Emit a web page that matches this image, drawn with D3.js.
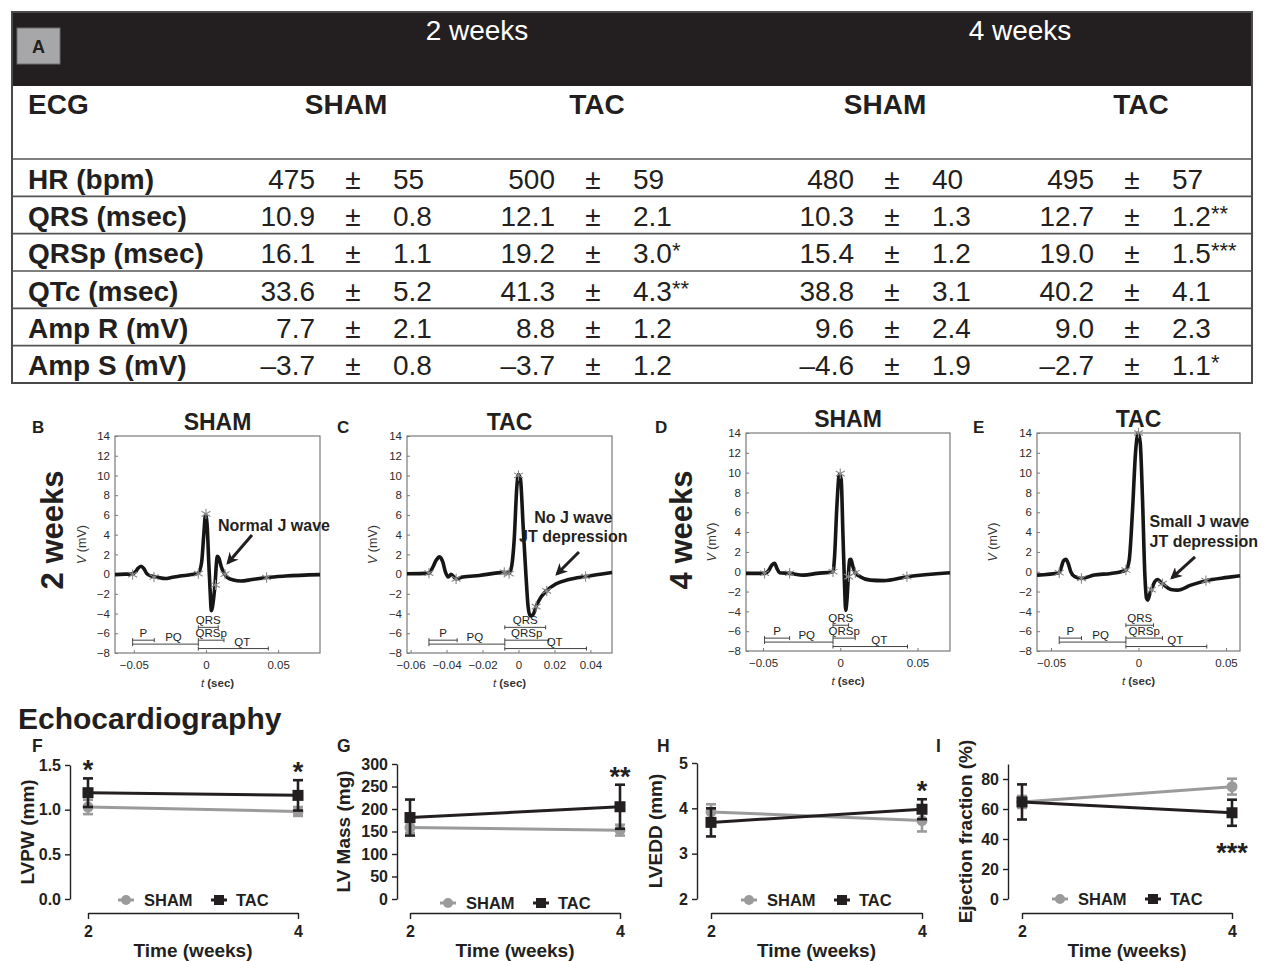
<!DOCTYPE html>
<meta charset="utf-8" />
<script src="https://d3js.org/d3.v7.min.js"></script>
<style>
  body { margin: 0; background: #fff; }
  svg { display: block; font-family: "Liberation Sans", Arial, Helvetica, sans-serif; }
</style>
<body>
<div id="fig"></div>
<script>
// ---------- A: ECG table ----------
const ecgRows = ["HR (bpm)", "QRS (msec)", "QRSp (msec)", "QTc (msec)", "Amp R (mV)", "Amp S (mV)"];
const rowDigits = [0, 1, 1, 1, 1, 1];
const sham2Mean = [475, 10.9, 16.1, 33.6, 7.7, -3.7];
const sham2SD = [55, 0.8, 1.1, 5.2, 2.1, 0.8];
const tac2Mean = [500, 12.1, 19.2, 41.3, 8.8, -3.7];
const tac2SD = [59, 2.1, 3.0, 4.3, 1.2, 1.2];
const tac2Sig = ["", "", "*", "**", "", ""];
const sham4Mean = [480, 10.3, 15.4, 38.8, 9.6, -4.6];
const sham4SD = [40, 1.3, 1.2, 3.1, 2.4, 1.9];
const tac4Mean = [495, 12.7, 19.0, 40.2, 9.0, -2.7];
const tac4SD = [57, 1.2, 1.5, 4.1, 2.3, 1.1];
const tac4Sig = ["", "**", "***", "", "", "*"];
const groupHeads = ["SHAM", "TAC", "SHAM", "TAC"];
const weekHeads = ["2 weeks", "4 weeks"];

// ---------- B-E: averaged ECG beats [t (sec), V (mV)] ----------
const shamTrace2 = [[-0.063,-0.05],[-0.056,0],[-0.051,0],[-0.049,0.2],[-0.047,0.6],[-0.045,0.8],[-0.043,0.55],[-0.041,0.05],
  [-0.038,-0.2],[-0.034,-0.3],[-0.028,-0.45],[-0.024,-0.35],[-0.018,-0.2],[-0.010,-0.05],[-0.0053,0.1],[-0.003,1.2],
  [-0.0015,4.0],[-0.0003,6.0],[0.0008,5.0],[0.002,1.0],[0.003,-2.0],[0.0037,-3.7],[0.0052,-2.6],[0.0065,-0.6],
  [0.0072,1.0],[0.0079,1.8],[0.009,1.6],[0.0105,0.8],[0.0125,0.1],[0.015,-0.35],[0.019,-0.6],[0.024,-0.7],
  [0.032,-0.55],[0.042,-0.35],[0.055,-0.2],[0.079,-0.05]];
const shamMarks2 = [[-0.0508,-0.05],[-0.036,-0.3],[-0.0053,0.05],[0,6.1],[0.0066,-1.1],[0.0132,0],[0.042,-0.35]];

const tacTrace2 = [[-0.062,0.03],[-0.0498,0.1],[-0.0476,0.72],[-0.0458,1.4],[-0.0439,1.75],[-0.0421,1.23],[-0.0406,0.2],
  [-0.0391,-0.3],[-0.0375,-0.03],[-0.0347,-0.48],[-0.031,-0.3],[-0.0218,-0.14],[-0.0079,0.17],[-0.0052,0.1],
  [-0.0037,0.9],[-0.0024,3.46],[-0.0009,8.9],[0,10.1],[0.0011,9.6],[0.0026,4.8],[0.0041,0.03],[0.0054,-3.4],
  [0.0065,-4.25],[0.0081,-4.1],[0.01,-3.2],[0.0124,-2.36],[0.0157,-1.68],[0.0207,-1.0],[0.028,-0.55],
  [0.0373,-0.24],[0.052,0.17]];
const tacMarks2 = [[-0.0498,0.1],[-0.0347,-0.48],[-0.0079,0.17],[-0.0052,0.05],[0,10],[0.0098,-3.3],[0.0157,-1.7],[0.0373,-0.25]];

const shamTrace4 = [[-0.061,-0.17],[-0.049,-0.17],[-0.0464,0.1],[-0.0442,0.68],[-0.0425,0.85],[-0.041,0.34],[-0.0393,-0.1],
  [-0.0328,-0.17],[-0.0237,-0.34],[-0.0151,-0.17],[-0.0047,0],[-0.0037,1.5],[-0.0022,6.6],[-0.0006,9.8],[0.0006,9.3],
  [0.0017,3.9],[0.0028,-1.5],[0.0035,-3.9],[0.0043,-2.9],[0.0052,-0.5],[0.006,1.2],[0.0069,1.25],[0.0082,0.5],
  [0.0097,-0.1],[0.0129,-0.5],[0.0194,-0.85],[0.028,-0.9],[0.0431,-0.5],[0.071,-0.1]];
const shamMarks4 = [[-0.049,-0.15],[-0.0328,-0.15],[-0.0047,0],[0,9.9],[0.0054,-0.5],[0.0097,-0.1],[0.0431,-0.5]];

const tacTrace4 = [[-0.058,-0.34],[-0.0453,-0.1],[-0.044,0.5],[-0.0429,1.1],[-0.0415,1.25],[-0.0402,0.85],[-0.0387,0],
  [-0.0364,-0.5],[-0.0326,-0.68],[-0.0253,-0.34],[-0.0158,-0.17],[-0.0072,0.17],[-0.0053,1.2],[-0.0034,6.25],
  [-0.0017,12],[-0.0002,14],[0.001,13],[0.0023,7.3],[0.0036,-0.17],[0.0046,-2.7],[0.0053,-2.87],[0.0065,-2.2],
  [0.0076,-1.7],[0.0093,-1.0],[0.0109,-0.78],[0.0124,-1.0],[0.0147,-1.35],[0.0185,-1.8],[0.0223,-1.86],
  [0.0299,-1.35],[0.0385,-0.9],[0.0509,-0.57],[0.058,-0.4]];
const tacMarks4 = [[-0.0453,-0.1],[-0.0326,-0.68],[-0.0072,0.17],[0,14],[0.0074,-1.8],[0.0137,-1.2],[0.0385,-0.9]];

// interval bars, same order everywhere
const spanNames = ["P", "PQ", "QRS", "QRSp", "QT"];
const spanLevel = [-6.7, -7.1, -5.4, -6.7, -7.55];
const shamSpans2 = [[-0.0508,-0.0358],[-0.0508,-0.0053],[-0.0053,0.0085],[-0.0053,0.0125],[-0.0053,0.0432]];
const tacSpans2 = [[-0.0498,-0.0341],[-0.0498,-0.0076],[-0.0076,0.0151],[-0.0076,0.0168],[-0.0076,0.0378]];
const shamSpans4 = [[-0.049,-0.0328],[-0.049,-0.0047],[-0.0047,0.0054],[-0.0047,0.0097],[-0.0047,0.0435]];
const tacSpans4 = [[-0.0453,-0.0326],[-0.0453,-0.0072],[-0.0072,0.0086],[-0.0072,0.0137],[-0.0072,0.039]];
const vTicks = [-8, -6, -4, -2, 0, 2, 4, 6, 8, 10, 12, 14];

// ---------- F-I: echocardiography (mean, SD) ----------
const weeks = [2, 4];
const lvpwSham = [1.03, 0.98], lvpwShamErr = [0.08, 0.05];
const lvpwTac = [1.19, 1.16], lvpwTacErr = [0.16, 0.17];
const lvpwStars = ["*", "*"];
const massSham = [159, 153], massShamErr = [12, 12];
const massTac = [181, 205], massTacErr = [40, 49];
const massStars = ["", "**"];
const lveddSham = [3.92, 3.73], lveddShamErr = [0.17, 0.24];
const lveddTac = [3.69, 3.98], lveddTacErr = [0.31, 0.22];
const lveddStars = ["", "*"];
const efSham = [64.7, 74.9], efShamErr = [4, 5.3];
const efTac = [64.7, 57.5], efTacErr = [11.7, 8.7];
const efStars = ["", "***"];

const INK = "#231f20", GREY = "#9b9b9b";
const svg = d3.select("#fig").append("svg").attr("width", 1264).attr("height", 961);

svg.append("defs").append("marker").attr("id", "head")
  .attr("viewBox", "0 0 10 10").attr("refX", 8).attr("refY", 5)
  .attr("markerWidth", 12).attr("markerHeight", 12).attr("markerUnits", "userSpaceOnUse")
  .attr("orient", "auto")
  .append("path").attr("d", "M0,0L10,5L0,10L3,5z").attr("fill", INK);

// ---------- table ----------
const fmtVal = (v, d) => (v < 0 ? "\u2013" : "") + Math.abs(v).toFixed(d);
const tbl = svg.append("g");
tbl.append("rect").attr("x", 12).attr("y", 12).attr("width", 1240).attr("height", 74).attr("fill", INK);
tbl.append("rect").attr("x", 17).attr("y", 28).attr("width", 43).attr("height", 36)
  .attr("fill", "#a7a7a9").attr("stroke", "#6d6d6d");
tbl.append("text").attr("x", 38.5).attr("y", 53).attr("text-anchor", "middle")
  .attr("font-size", 18).attr("font-weight", "bold").attr("fill", INK).text("A");
tbl.selectAll(".wk").data(weekHeads).join("text")
  .attr("x", (d, i) => [477, 1020][i]).attr("y", 40).attr("text-anchor", "middle")
  .attr("font-size", 28).attr("fill", "#fff").text(d => d);
tbl.append("text").attr("x", 28).attr("y", 114).attr("font-size", 28).attr("font-weight", "bold")
  .attr("fill", INK).text("ECG");
tbl.selectAll(".gh").data(groupHeads).join("text")
  .attr("x", (d, i) => [346, 597, 885, 1141][i]).attr("y", 114).attr("text-anchor", "middle")
  .attr("font-size", 28).attr("font-weight", "bold").attr("fill", INK).text(d => d);

const rowY = d3.scaleBand().domain(ecgRows).range([159, 383]);
tbl.selectAll(".rl").data(ecgRows).join("line")
  .attr("x1", 12).attr("x2", 1252).attr("y1", d => rowY(d)).attr("y2", d => rowY(d))
  .attr("stroke", "#555").attr("stroke-width", 1.6);
tbl.selectAll(".rn").data(ecgRows).join("text")
  .attr("x", 28).attr("y", d => rowY(d) + 29.5).attr("font-size", 28).attr("font-weight", "bold")
  .attr("fill", INK).text(d => d);

const tableCols = [
  { mean: sham2Mean, sd: sham2SD, sig: null, x: 315 },
  { mean: tac2Mean, sd: tac2SD, sig: tac2Sig, x: 555 },
  { mean: sham4Mean, sd: sham4SD, sig: null, x: 854 },
  { mean: tac4Mean, sd: tac4SD, sig: tac4Sig, x: 1094 }
];
tableCols.forEach(c => {
  ecgRows.forEach((r, i) => {
    const by = rowY(r) + 29.5;
    tbl.append("text").attr("x", c.x).attr("y", by).attr("text-anchor", "end")
      .attr("font-size", 28).attr("fill", INK).text(fmtVal(c.mean[i], rowDigits[i]));
    tbl.append("text").attr("x", c.x + 38).attr("y", by).attr("text-anchor", "middle")
      .attr("font-size", 28).attr("fill", INK).text("\u00b1");
    const t = tbl.append("text").attr("x", c.x + 78).attr("y", by)
      .attr("font-size", 28).attr("fill", INK);
    t.append("tspan").text(fmtVal(c.sd[i], rowDigits[i]));
    if (c.sig && c.sig[i]) t.append("tspan").attr("font-size", 22).attr("dy", -5).text(c.sig[i]);
  });
});
tbl.append("rect").attr("x", 12).attr("y", 12).attr("width", 1240).attr("height", 371)
  .attr("fill", "none").attr("stroke", "#4a4a4a").attr("stroke-width", 2);

// ---------- ECG panels ----------
function ecgPanel(p) {
  const g = svg.append("g");
  const x = d3.scaleLinear().domain(p.tDomain).range([p.left, p.right]);
  const y = d3.scaleLinear().domain([-8, 14]).range([p.bottom, p.top]);
  const cx = (p.left + p.right) / 2, cy = (p.top + p.bottom) / 2;

  g.append("rect").attr("x", p.left).attr("y", p.top)
    .attr("width", p.right - p.left).attr("height", p.bottom - p.top)
    .attr("fill", "none").attr("stroke", "#7a7a7a").attr("stroke-width", 1.2);

  const ya = g.append("g").attr("transform", `translate(${p.left},0)`)
    .call(d3.axisLeft(y).tickValues(vTicks).tickSize(-3).tickPadding(5).tickFormat(d3.format("d")));
  ya.attr("font-family", null).attr("font-size", 11.5);
  ya.select(".domain").remove();
  ya.selectAll("line").attr("stroke", "#7a7a7a");
  ya.selectAll("text").attr("fill", "#2a2a2a");

  const xa = g.append("g").attr("transform", `translate(0,${p.bottom})`)
    .call(d3.axisBottom(x).tickValues(p.tTicks).tickSize(-3).tickPadding(8)
      .tickFormat(d => d === 0 ? "0" : d3.format(".2f")(d)));
  xa.attr("font-family", null).attr("font-size", 11.5);
  xa.select(".domain").remove();
  xa.selectAll("line").attr("stroke", "#7a7a7a");
  xa.selectAll("text").attr("fill", "#2a2a2a");

  // interval bars
  p.spans.forEach((s, i) => {
    const yy = y(spanLevel[i]);
    g.append("line").attr("x1", x(s[0])).attr("x2", x(s[1])).attr("y1", yy).attr("y2", yy)
      .attr("stroke", "#444").attr("stroke-width", 1);
    s.forEach(t => g.append("line").attr("x1", x(t)).attr("x2", x(t)).attr("y1", yy - 2).attr("y2", yy + 2)
      .attr("stroke", "#444").attr("stroke-width", 1));
    const dx = [0, 8, 0, 0, 9][i];
    g.append("text").attr("x", (x(s[0]) + x(s[1])) / 2 + dx).attr("y", yy - 3)
      .attr("text-anchor", "middle").attr("font-size", 11.5).attr("fill", "#222").text(spanNames[i]);
  });

  g.append("path").datum(p.trace)
    .attr("d", d3.line().x(d => x(d[0])).y(d => y(d[1])).curve(d3.curveMonotoneX))
    .attr("fill", "none").attr("stroke", "#161616").attr("stroke-width", 3.6)
    .attr("stroke-linejoin", "round");

  const star = d3.symbol(d3.symbolAsterisk || d3.symbolCross, 75)();
  g.selectAll(".mk").data(p.marks).join("path")
    .attr("transform", d => `translate(${x(d[0])},${y(d[1])})`).attr("d", star)
    .attr("fill", "none").attr("stroke", "#8a8a8a").attr("stroke-width", 1.1);

  // labels
  g.append("text").attr("x", cx).attr("y", p.top - 6).attr("text-anchor", "middle")
    .attr("font-size", 23).attr("font-weight", "bold").attr("fill", INK).text(p.title);
  g.append("text").attr("x", p.letterX).attr("y", 433)
    .attr("font-size", 17).attr("font-weight", "bold").attr("fill", INK).text(p.letter);
  const vl = g.append("text").attr("transform", `translate(${p.vX},${cy}) rotate(-90)`)
    .attr("text-anchor", "middle").attr("dy", "0.35em").attr("font-size", 12.5).attr("fill", "#333");
  vl.append("tspan").attr("font-style", "italic").text("V");
  vl.append("tspan").text(" (mV)");
  const tl = g.append("text").attr("x", cx).attr("y", p.bottom + 34)
    .attr("text-anchor", "middle").attr("font-size", 11.5).attr("fill", "#333");
  tl.append("tspan").attr("font-style", "italic").text("t");
  tl.append("tspan").attr("font-weight", "bold").text(" (sec)");

  if (p.week) {
    g.append("text").attr("transform", `translate(${p.weekX},530) rotate(-90)`)
      .attr("text-anchor", "middle").attr("dy", "0.35em")
      .attr("font-size", 31).attr("font-weight", "bold").attr("fill", INK).text(p.week);
  }
  if (p.note) {
    p.note.lines.forEach((ln, i) => {
      g.append("text").attr("x", x(p.note.t)).attr("y", y(p.note.v) + i * 19.5)
        .attr("text-anchor", p.note.anchor).attr("font-size", 16).attr("font-weight", "bold")
        .attr("fill", INK).text(ln);
    });
    g.append("line").attr("x1", x(p.note.arrow[0][0])).attr("y1", y(p.note.arrow[0][1]))
      .attr("x2", x(p.note.arrow[1][0])).attr("y2", y(p.note.arrow[1][1]))
      .attr("stroke", INK).attr("stroke-width", 3).attr("marker-end", "url(#head)");
  }
}

ecgPanel({ letter: "B", letterX: 32, title: "SHAM", week: "2 weeks", weekX: 52, vX: 82,
  left: 115, right: 320, top: 436, bottom: 653, tDomain: [-0.063, 0.079], tTicks: [-0.05, 0, 0.05],
  trace: shamTrace2, marks: shamMarks2, spans: shamSpans2,
  note: { lines: ["Normal J wave"], anchor: "start", t: 0.0083, v: 4.37,
    arrow: [[0.0319, 3.97], [0.0152, 1.13]] } });
ecgPanel({ letter: "C", letterX: 337, title: "TAC", vX: 373,
  left: 407, right: 612, top: 436, bottom: 653, tDomain: [-0.062, 0.052],
  tTicks: [-0.06, -0.04, -0.02, 0, 0.02, 0.04],
  trace: tacTrace2, marks: tacMarks2, spans: tacSpans2,
  note: { lines: ["No J wave", "JT depression"], anchor: "middle", t: 0.0305, v: 5.18,
    arrow: [[0.0336, 2.24], [0.0214, 0.01]] } });
ecgPanel({ letter: "D", letterX: 655, title: "SHAM", week: "4 weeks", weekX: 681, vX: 712,
  left: 746, right: 950, top: 433, bottom: 651, tDomain: [-0.061, 0.071], tTicks: [-0.05, 0, 0.05],
  trace: shamTrace4, marks: shamMarks4, spans: shamSpans4 });
ecgPanel({ letter: "E", letterX: 973, title: "TAC", vX: 993,
  left: 1037, right: 1240, top: 433, bottom: 651, tDomain: [-0.058, 0.058], tTicks: [-0.05, 0, 0.05],
  trace: tacTrace4, marks: tacMarks4, spans: tacSpans4,
  note: { lines: ["Small J wave", "JT depression"], anchor: "start", t: 0.0063, v: 4.51,
    arrow: [[0.0323, 1.49], [0.0191, -0.63]] } });

// ---------- echocardiography ----------
svg.append("text").attr("x", 18).attr("y", 729).attr("font-size", 30).attr("font-weight", "bold")
  .attr("fill", INK).text("Echocardiography");

function echoPanel(p) {
  const g = svg.append("g");
  const x = d3.scaleLinear().domain([2, 4]).range([p.px0, p.px1]);
  const y = d3.scaleLinear().domain(p.domain).range([899, p.top]);

  const ya = g.append("g").attr("transform", `translate(${p.ax},0)`)
    .call(d3.axisLeft(y).tickValues(p.ticks).tickFormat(p.fmt).tickSize(5).tickSizeOuter(0).tickPadding(4));
  ya.attr("font-family", null).attr("font-size", 16).attr("font-weight", "bold").attr("color", INK);
  ya.selectAll("path,line").attr("stroke-width", 1.4);

  const xa = g.append("g").attr("transform", "translate(0,913)")
    .call(d3.axisBottom(x).tickValues(weeks).tickFormat(d3.format("d")).tickSize(6).tickSizeOuter(0).tickPadding(7));
  xa.attr("font-family", null).attr("font-size", 16).attr("font-weight", "bold").attr("color", INK);
  xa.selectAll("path,line").attr("stroke-width", 1.4);

  g.append("text").attr("x", (p.px0 + p.px1) / 2).attr("y", 957).attr("text-anchor", "middle")
    .attr("font-size", 19).attr("font-weight", "bold").attr("fill", INK).text("Time (weeks)");
  g.append("text").attr("transform", `translate(${p.tx},${(899 + p.top) / 2}) rotate(-90)`)
    .attr("text-anchor", "middle").attr("dy", "0.35em")
    .attr("font-size", 19).attr("font-weight", "bold").attr("fill", INK).text(p.title);
  g.append("text").attr("x", p.lx).attr("y", 752).attr("font-size", 17.5).attr("font-weight", "bold")
    .attr("fill", INK).text(p.letter);

  const groups = [
    { m: p.sham, e: p.shamErr, c: GREY, sq: false },
    { m: p.tac, e: p.tacErr, c: INK, sq: true }
  ];
  groups.forEach(s => {
    g.append("path").datum(weeks)
      .attr("d", d3.line().x(w => x(w)).y((w, i) => y(s.m[i])))
      .attr("fill", "none").attr("stroke", s.c).attr("stroke-width", 3);
    weeks.forEach((w, i) => {
      const xx = x(w), lo = y(s.m[i] - s.e[i]), hi = y(s.m[i] + s.e[i]);
      g.append("line").attr("x1", xx).attr("x2", xx).attr("y1", lo).attr("y2", hi)
        .attr("stroke", s.c).attr("stroke-width", 2.6);
      [lo, hi].forEach(v => g.append("line").attr("x1", xx - 5).attr("x2", xx + 5).attr("y1", v).attr("y2", v)
        .attr("stroke", s.c).attr("stroke-width", 2.6));
      if (s.sq) g.append("rect").attr("x", xx - 5.5).attr("y", y(s.m[i]) - 5.5).attr("width", 11).attr("height", 11).attr("fill", s.c);
      else g.append("circle").attr("cx", xx).attr("cy", y(s.m[i])).attr("r", 5.5).attr("fill", s.c);
    });
  });

  weeks.forEach((w, i) => {
    if (!p.stars[i]) return;
    const by = p.starBelow ? y(p.tac[i] - p.tacErr[i]) + 36 : y(p.tac[i] + p.tacErr[i]) + 1;
    g.append("text").attr("x", x(w)).attr("y", by).attr("text-anchor", "middle")
      .attr("font-size", 27).attr("font-weight", "bold").attr("fill", INK).text(p.stars[i]);
  });

  // legend
  const ly = p.legendY;
  [[38, 56, "SHAM", GREY, false], [131, 148, "TAC", INK, true]].forEach(([mx, tx, lab, c, sq]) => {
    g.append("line").attr("x1", p.px0 + mx - 8).attr("x2", p.px0 + mx + 8).attr("y1", ly).attr("y2", ly)
      .attr("stroke", c).attr("stroke-width", 3);
    if (sq) g.append("rect").attr("x", p.px0 + mx - 5).attr("y", ly - 5).attr("width", 10).attr("height", 10).attr("fill", c);
    else g.append("circle").attr("cx", p.px0 + mx).attr("cy", ly).attr("r", 5).attr("fill", c);
    g.append("text").attr("x", p.px0 + tx).attr("y", ly).attr("dy", "0.36em")
      .attr("font-size", 16.5).attr("font-weight", "bold").attr("fill", INK).text(lab);
  });
}

echoPanel({ letter: "F", lx: 32, ax: 70, px0: 88, px1: 298, top: 765, domain: [0, 1.5],
  ticks: [0, 0.5, 1, 1.5], fmt: d3.format(".1f"), title: "LVPW (mm)", tx: 27, legendY: 900,
  sham: lvpwSham, shamErr: lvpwShamErr, tac: lvpwTac, tacErr: lvpwTacErr, stars: lvpwStars });
echoPanel({ letter: "G", lx: 337, ax: 397, px0: 410, px1: 620, top: 764, domain: [0, 300],
  ticks: [0, 50, 100, 150, 200, 250, 300], fmt: d3.format("d"), title: "LV Mass (mg)", tx: 343, legendY: 903,
  sham: massSham, shamErr: massShamErr, tac: massTac, tacErr: massTacErr, stars: massStars });
echoPanel({ letter: "H", lx: 657, ax: 697, px0: 711, px1: 922, top: 763, domain: [2, 5],
  ticks: [2, 3, 4, 5], fmt: d3.format("d"), title: "LVEDD (mm)", tx: 655, legendY: 900,
  sham: lveddSham, shamErr: lveddShamErr, tac: lveddTac, tacErr: lveddTacErr, stars: lveddStars });
echoPanel({ letter: "I", lx: 936, ax: 1008, px0: 1022, px1: 1232, top: 764, domain: [0, 90],
  ticks: [0, 20, 40, 60, 80], fmt: d3.format("d"), title: "Ejection fraction (%)", tx: 965, legendY: 899,
  sham: efSham, shamErr: efShamErr, tac: efTac, tacErr: efTacErr, stars: efStars, starBelow: true });
</script>
</body>
